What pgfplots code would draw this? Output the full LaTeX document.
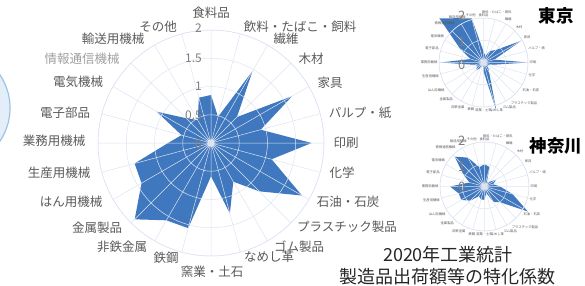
\documentclass[border=0pt]{standalone}
\usepackage{fontspec}
\setmainfont{Noto Sans CJK JP}
\usepackage{pgfplots}
\pgfplotsset{compat=1.18}
\usepgfplotslibrary{polar}
\usepackage{pgfplotstable}

\definecolor{radarblue}{HTML}{3F78BE}
\definecolor{lblgray}{HTML}{595959}
\definecolor{lightlbl}{HTML}{A0A0A0}
\definecolor{gridc}{HTML}{DCE3F1}
\definecolor{tickgray}{HTML}{7F7F7F}
\definecolor{ringblue}{HTML}{9DC3E6}
\definecolor{ringfill}{HTML}{E3EEF8}
\definecolor{titlegray}{HTML}{262626}

% polar angle (deg, ccw from right) = 90 - 15*i, i = category index clockwise from top
\pgfplotstableread{
ang main tokyo kana
90  0.85 0.50 1.00
75  0.48 0.30 0.90
60  1.47 0.60 0.20
45  0.65 0.80 0.30
30  1.66 1.95 0.60
15  0.91 0.50 0.40
0   1.78 2.00 0.70
345 1.11 0.40 1.30
330 1.86 0.20 2.25
315 1.21 0.30 1.00
300 0.79 0.50 0.80
285 1.29 2.25 0.30
270 0.59 0.40 0.60
255 1.56 0.10 0.60
240 1.58 0.30 0.50
225 1.91 0.50 0.90
210 1.42 0.30 1.20
195 1.40 0.40 1.20
180 0.76 1.95 1.55
165 0.54 0.60 0.70
150 1.11 1.20 1.10
135 0.62 2.80 1.90
120 0.47 2.30 1.50
105 0.83 2.05 0.90
90  0.85 0.50 1.00
}\radardata

\pgfplotsset{radarbase/.style={
  anchor=center, scale only axis,
  xmin=0, xmax=360, ymin=0, ymax=2,
  xtick={0,15,...,345},
  yticklabels={},
  yticklabel style={text opacity=0},
  grid style={color=gridc, line width=0.5pt},
  x axis line style={color=gridc, line width=0.5pt},
  y axis line style={draw=none},
  major tick length=0pt,
  axis on top, clip=false,
}}

\begin{document}
\begin{tikzpicture}
\path[use as bounding box] (0,0) rectangle (585pt,-285pt);
\draw[ringblue, line width=1.2pt, fill=ringfill] (-50pt,-108pt) circle (60pt);

% main radar
\begin{polaraxis}[radarbase,
  at={(211pt,-143pt)}, width=226pt, height=226pt,
  ytick={0,0.5,1,1.5,2},
  xticklabels={}, xticklabel style={text opacity=0},
  xmajorgrids, ymajorgrids]
\addplot[fill=radarblue, draw=none] table[x=ang, y=main]{\radardata};
\end{polaraxis}

% Tokyo
\begin{polaraxis}[radarbase,
  at={(483.5pt,-62.5pt)}, width=89pt, height=89pt,
  ytick={1,2}, ymajorgrids,
  xticklabels={印刷,パルプ・紙,家具,木材,繊維,飲料・たばこ・飼料,食料品,その他,輸送用機械,情報通信機械,電気機械,電子部品,業務用機械,生産用機械,はん用機械,金属製品,非鉄金属,鉄鋼,窯業・土石,なめし革,ゴム製品,プラスチック製品,石油・石炭,化学},
  xticklabel style={font=\fontsize{3.3}{4}\selectfont, text=lblgray, inner sep=1.5pt}]
\addplot[fill=radarblue, draw=none] table[x=ang, y=tokyo]{\radardata};
\end{polaraxis}

% Kanagawa
\begin{polaraxis}[radarbase,
  at={(484.5pt,-186.5pt)}, width=89pt, height=89pt,
  ytick={1,2}, ymajorgrids,
  xticklabels={印刷,パルプ・紙,家具,木材,繊維,飲料・たばこ・飼料,食料品,その他,輸送用機械,情報通信機械,電気機械,電子部品,業務用機械,生産用機械,はん用機械,金属製品,非鉄金属,鉄鋼,窯業・土石,なめし革,ゴム製品,プラスチック製品,石油・石炭,化学},
  xticklabel style={font=\fontsize{3.3}{4}\selectfont, text=lblgray, inner sep=1.5pt}]
\addplot[fill=radarblue, draw=none] table[x=ang, y=kana]{\radardata};
\end{polaraxis}

\begin{scope}[x=1pt,y=-1pt]
\tikzset{lb/.style={text=lblgray, font=\fontsize{12.5}{14}\selectfont, inner sep=0pt}}
\node[lb] at (211,13) {食料品};
\node[lb] at (300,27) {飲料・たばこ・飼料};
\node[lb] at (286,39) {繊維};
\node[lb] at (311,59) {木材};
\node[lb] at (330,83) {家具};
\node[lb] at (360,113) {パルプ・紙};
\node[lb] at (346,143) {印刷};
\node[lb] at (342,173) {化学};
\node[lb] at (348,202) {石油・石炭};
\node[lb] at (347,227) {プラスチック製品};
\node[lb] at (299,247) {ゴム製品};
\node[lb] at (269,257) {なめし革};
\node[lb] at (212,272) {窯業・土石};
\node[lb] at (166,258) {鉄鋼};
\node[lb] at (122,247) {非鉄金属};
\node[lb] at (97,228) {金属製品};
\node[lb] at (71,202) {はん用機械};
\node[lb] at (59,173) {生産用機械};
\node[lb] at (54,141) {業務用機械};
\node[lb] at (65,113) {電子部品};
\node[lb] at (78,82) {電気機械};
\node[lb, text=lightlbl] at (82,59) {情報通信機械};
\node[lb] at (113,39) {輸送用機械};
\node[lb] at (158,27) {その他};
% radial tick labels
\tikzset{tk/.style={text=tickgray, font=\fontsize{12}{13}\selectfont, anchor=east, inner sep=0pt}}
\node[tk] at (202,28) {2};
\node[tk] at (202,58) {1.5};
\node[tk] at (202,86) {1};
\node[tk] at (202,115) {0.5};
\node[tk] at (202,144) {0};
% small chart tick labels
\tikzset{stk/.style={text=tickgray, font=\fontsize{13}{14}\selectfont, inner sep=0pt}}
\node[stk] at (461.7,16) {2};
\node[stk] at (461.7,41.7) {1};
\node[stk] at (461.7,65) {0};
\node[stk] at (461.7,141) {2};
\node[stk] at (461.7,166.7) {1};
\node[stk] at (461.7,187) {0};
% titles
\node[font=\fontsize{17.5}{19}\selectfont\bfseries, inner sep=0pt] at (556,16) {東京};
\node[font=\fontsize{17.5}{19}\selectfont\bfseries, inner sep=0pt] at (556,146) {神奈川};
\node[text=titlegray, font=\fontsize{18}{20}\selectfont, inner sep=0pt] at (448,255) {2020年工業統計};
\node[text=titlegray, font=\fontsize{18}{20}\selectfont, inner sep=0pt] at (447,277) {製造品出荷額等の特化係数};
\end{scope}
\end{tikzpicture}
\end{document}
